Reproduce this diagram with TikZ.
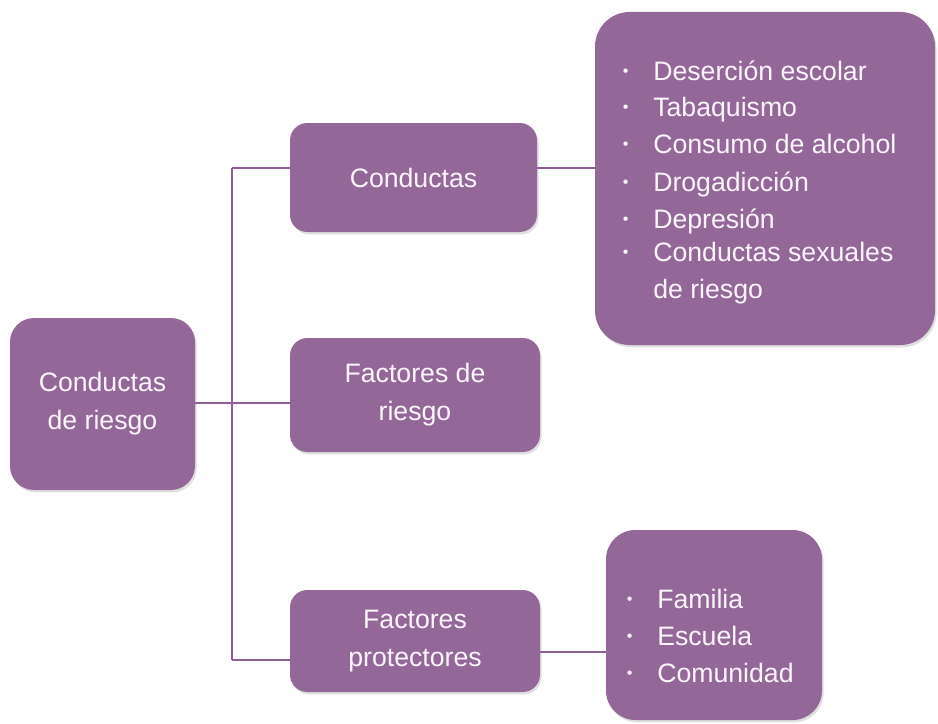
\documentclass[tikz,border=0pt]{standalone}
\usepackage{fontspec}
\setmainfont{Liberation Sans}
\usetikzlibrary{shadows}
\definecolor{boxfill}{HTML}{946799}
\definecolor{linecol}{HTML}{8E5E94}
\definecolor{txt}{HTML}{FAF6FA}
\newcommand{\blt}{\makebox[26.25pt][l]{\hspace{3.4pt}\raisebox{3pt}{\fontsize{12}{12}\selectfont\textbullet}}}
\begin{document}
\begin{tikzpicture}[x=0.75pt,y=-0.75pt,
  box/.style={draw=none, fill=boxfill, text=txt, align=center, inner sep=0pt,
    font=\fontsize{20}{28.5}\selectfont,
    drop shadow={opacity=0.25, shadow xshift=1.2pt, shadow yshift=-1.8pt}},
  itemtext/.style={text=txt, inner sep=0pt, anchor=base west, font=\fontsize{20}{24}\selectfont},
  conn/.style={draw=linecol, line width=1.1pt}]
\useasboundingbox (0,0) rectangle (938,724);
% boxes
\node[box, rounded corners=18pt, minimum width=138.75pt, minimum height=129pt] (root) at (102.5,404) {Conductas\\de riesgo};
\node[box, rounded corners=13pt, minimum width=185.25pt, minimum height=81.75pt] (cond) at (413.5,177.5) {Conductas};
\node[box, rounded corners=13pt, minimum width=187.5pt, minimum height=85.5pt] (fr) at (415,395) {Factores de\\riesgo};
\node[box, rounded corners=13pt, minimum width=187.5pt, minimum height=76.5pt] (prot) at (415,641) {Factores\\protectores};
\node[box, rounded corners=26pt, minimum width=255pt, minimum height=249.75pt] (list1) at (765,178.5) {};
\node[box, rounded corners=22pt, minimum width=162pt, minimum height=142.5pt] (list2) at (714,625) {};
% list items
\node[itemtext] (a1) at (618,80) {\blt Deserción escolar};
\node[itemtext] (a2) at (618,116) {\blt Tabaquismo};
\node[itemtext] (a3) at (618,153) {\blt Consumo de alcohol};
\node[itemtext] (a4) at (618,191) {\blt Drogadicción};
\node[itemtext] (a5) at (618,228) {\blt Depresión};
\node[itemtext] (a6) at (618,261) {\blt Conductas sexuales};
\node[itemtext] (a7) at (653,298) {de riesgo};
\node[itemtext] (b1) at (622,608) {\blt Familia};
\node[itemtext] (b2) at (622,645) {\blt Escuela};
\node[itemtext] (b3) at (622,682) {\blt Comunidad};
% connectors
\coordinate (top) at (232,168);
\coordinate (mid) at (232,403);
\coordinate (bot) at (232,660);
\coordinate (pb) at (575,652);
\draw[conn] (top) -- (bot);
\draw[conn] (root.east |- mid) -- (fr.west |- mid);
\draw[conn] (top) -- (cond.west |- top);
\draw[conn] (bot) -- (prot.west |- bot);
\draw[conn] (cond.east |- top) -- (list1.west |- top);
\draw[conn] (prot.east |- pb) -- (list2.west |- pb);
\end{tikzpicture}
\end{document}
